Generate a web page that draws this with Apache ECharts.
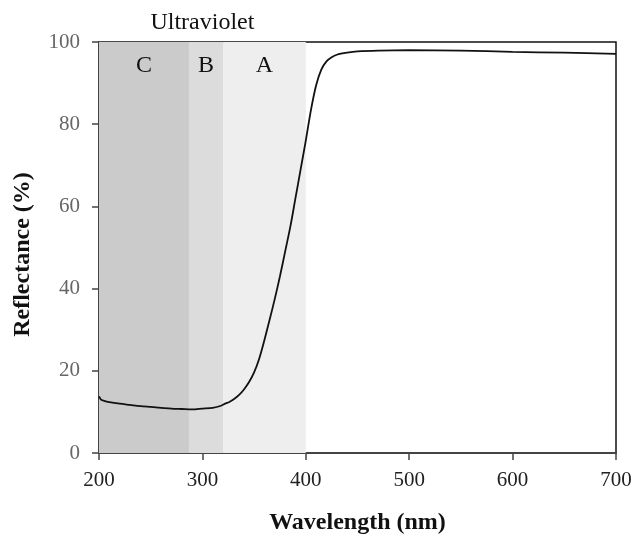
<!DOCTYPE html>
<html>
<head>
<meta charset="utf-8">
<script src="https://cdn.jsdelivr.net/npm/echarts@6/dist/echarts.min.js"></script>
<style>html,body{margin:0;padding:0;background:#fff;}#c{width:636px;height:536px;}</style>
</head>
<body>
<div id="c"></div>
<script>
const wavelengths = [200,202,205,210,220,230,240,250,260,270,280,290,300,310,318,322,326,330,335,340,345,350,355,360,365,370,375,380,385,390,395,400,405,410,415,420,425,430,440,450,470,500,550,600,650,700];
const reflectance = [13.8,13.0,12.7,12.4,12.0,11.7,11.4,11.2,11.0,10.8,10.7,10.6,10.8,11.0,11.5,12.0,12.4,13.0,14.0,15.4,17.2,19.6,23.0,27.5,32.4,37.5,43.0,49.0,55.0,62.0,69.0,76.0,83.5,89.5,93.3,95.3,96.3,96.9,97.4,97.7,97.9,98.0,97.9,97.6,97.4,97.1];
const uvBands = [
  {name: 'C', from: 200, to: 287, color: '#cbcbcb'},
  {name: 'B', from: 287, to: 320, color: '#dcdcdc'},
  {name: 'A', from: 320, to: 400, color: '#eeeeee'}
];
const uvRange = {name: 'Ultraviolet', from: 200, to: 400};
const xTicks = {min: 200, max: 700, interval: 100};
const yTicks = {min: 0, max: 100, interval: 20};

const font = "'Liberation Serif', 'Times New Roman', serif";
const chart = echarts.init(document.getElementById('c'), null, {renderer: 'canvas'});
chart.setOption({
  animation: false,
  backgroundColor: '#ffffff',
  grid: {left: 99, right: 20, top: 42, bottom: 83, containLabel: false, outerBoundsMode: 'none', show: true, borderColor: '#111', borderWidth: 1.5, backgroundColor: 'transparent'},
  xAxis: {
    type: 'value', min: xTicks.min, max: xTicks.max, interval: xTicks.interval,
    name: 'Wavelength (nm)', nameLocation: 'middle', nameGap: 58,
    nameTextStyle: {fontFamily: font, fontSize: 24, fontWeight: 'bold', color: '#111'},
    axisLine: {lineStyle: {color: '#444', width: 2}},
    axisTick: {show: true, length: 7, lineStyle: {color: '#444', width: 1.5}},
    axisLabel: {fontFamily: font, fontSize: 21, color: '#222', margin: 17},
    splitLine: {show: false}
  },
  yAxis: {
    type: 'value', min: yTicks.min, max: yTicks.max, interval: yTicks.interval,
    name: 'Reflectance (%)', nameLocation: 'middle', nameGap: 64,
    nameTextStyle: {fontFamily: font, fontSize: 24, fontWeight: 'bold', color: '#111', padding: [0, 14, 0, 0]},
    axisLine: {show: true, lineStyle: {color: '#444', width: 2}},
    axisTick: {show: true, length: 7, lineStyle: {color: '#444', width: 1.5}},
    axisLabel: {fontFamily: font, fontSize: 21, color: '#666', margin: 19},
    splitLine: {show: false}
  },
  series: [
    {
      type: 'line',
      data: wavelengths.map((w, i) => [w, reflectance[i]]),
      showSymbol: false,
      smooth: 0.3,
      lineStyle: {color: '#111', width: 1.8},
      z: 5,
      markArea: {
        silent: true,
        data: uvBands.map(b => [
          {xAxis: b.from, itemStyle: {color: b.color}, label: {show: true, formatter: b.name, position: 'insideTop', distance: 12, fontFamily: font, fontSize: 24, color: '#111'}},
          {xAxis: b.to}
        ]).concat([[
          {xAxis: uvRange.from, itemStyle: {color: 'rgba(0,0,0,0)'}, label: {show: true, formatter: uvRange.name, position: 'top', distance: 7, fontFamily: font, fontSize: 24, color: '#111'}},
          {xAxis: uvRange.to}
        ]])
      }
    }
  ]
});
</script>
</body>
</html>
